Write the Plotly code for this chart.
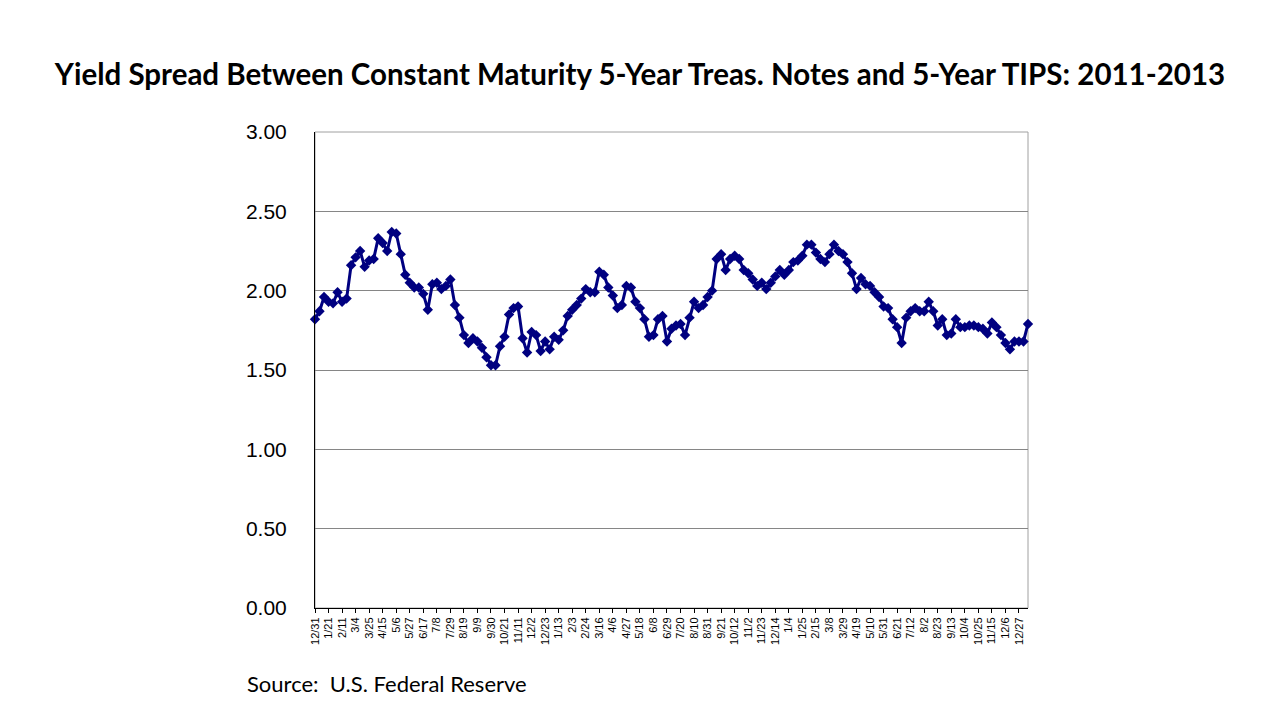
""" Yield spread chart: 5-year Treasury notes vs 5-year TIPS, 2011-2013. """

import plotly.graph_objects as go

# Weekly spread values (percentage points), week ending 12/31/2010 onward
spread = [
    1.82, 1.87, 1.96, 1.93, 1.92, 1.99, 1.93, 1.95, 2.16, 2.21,
    2.25, 2.15, 2.19, 2.20, 2.33, 2.30, 2.25, 2.37, 2.36, 2.23,
    2.10, 2.05, 2.02, 2.02, 1.98, 1.88, 2.04, 2.05, 2.01, 2.03,
    2.07, 1.91, 1.83, 1.72, 1.67, 1.70, 1.68, 1.64, 1.58, 1.53,
    1.53, 1.65, 1.71, 1.85, 1.89, 1.90, 1.70, 1.61, 1.74, 1.72,
    1.62, 1.68, 1.63, 1.71, 1.69, 1.75, 1.84, 1.88, 1.91, 1.95,
    2.01, 1.99, 1.99, 2.12, 2.10, 2.02, 1.97, 1.89, 1.91, 2.03,
    2.02, 1.93, 1.89, 1.82, 1.71, 1.72, 1.82, 1.84, 1.68, 1.76,
    1.78, 1.79, 1.72, 1.83, 1.93, 1.89, 1.91, 1.96, 2.00, 2.20,
    2.23, 2.13, 2.20, 2.22, 2.20, 2.13, 2.11, 2.07, 2.03, 2.05,
    2.01, 2.05, 2.09, 2.13, 2.10, 2.13, 2.18, 2.19, 2.22, 2.29,
    2.29, 2.24, 2.20, 2.18, 2.23, 2.29, 2.25, 2.23, 2.18, 2.11,
    2.01, 2.08, 2.04, 2.03, 1.99, 1.96, 1.90, 1.89, 1.82, 1.77,
    1.67, 1.83, 1.87, 1.89, 1.87, 1.87, 1.93, 1.87, 1.78, 1.82,
    1.72, 1.73, 1.82, 1.77, 1.77, 1.78, 1.78, 1.77, 1.76, 1.73,
    1.80, 1.77, 1.72, 1.67, 1.63, 1.68, 1.68, 1.68, 1.79,
]

# Category labels shown on the x axis (every third week)
week_labels = [
    '12/31', '1/21', '2/11', '3/4', '3/25', '4/15', '5/6', '5/27', '6/17',
    '7/8', '7/29', '8/19', '9/9', '9/30', '10/21', '11/11', '12/2', '12/23',
    '1/13', '2/3', '2/24', '3/16', '4/6', '4/27', '5/18', '6/8', '6/29',
    '7/20', '8/10', '8/31', '9/21', '10/12', '11/2', '11/23', '12/14',
    '1/4', '1/25', '2/15', '3/8', '3/29', '4/19', '5/10', '5/31', '6/21',
    '7/12', '8/2', '8/23', '9/13', '10/4', '10/25', '11/15', '12/6', '12/27',
]

y_ticks = [0.0, 0.5, 1.0, 1.5, 2.0, 2.5, 3.0]

TITLE = 'Yield Spread Between Constant Maturity 5-Year Treas. Notes and 5-Year TIPS: 2011-2013'
SOURCE = 'Source:  U.S. Federal Reserve'

week_idx = list(range(len(spread)))
label_idx = week_idx[::3][:len(week_labels)]

fig = go.Figure()
fig.add_trace(go.Scatter(
    x=week_idx,
    y=spread,
    mode='lines+markers',
    line=dict(color='#000080', width=3),
    marker=dict(symbol='diamond', size=8, color='#000080'),
    cliponaxis=False,
    showlegend=False,
))

# Grey frame round the plot area (top and right edges)
fig.add_shape(
    type='rect', xref='paper', yref='paper', x0=0, x1=1, y0=0, y1=1,
    line=dict(color='#a0a0a0', width=1), layer='below',
)

fig.update_xaxes(
    range=[0, len(spread) - 1],
    tickvals=label_idx,
    ticktext=week_labels,
    tickangle=-90,
    tickfont=dict(family='Liberation Sans, Arial', size=11, color='black'),
    ticks='outside', ticklen=4, tickcolor='black',
    showline=True, linecolor='black', linewidth=1,
    showgrid=False, zeroline=False,
)
fig.update_yaxes(
    range=[0, 3],
    tickvals=y_ticks,
    tickformat='.2f',
    tickfont=dict(family='Liberation Sans, Arial', size=21, color='black'),
    ticklabelstandoff=23,
    showline=True, linecolor='black', linewidth=1,
    showgrid=True, gridcolor='#868686', gridwidth=1,
    zeroline=False,
)

fig.update_layout(
    width=1280, height=720,
    margin=dict(l=307, r=260, t=124, b=120),
    paper_bgcolor='white', plot_bgcolor='white',
    title=dict(
        text=f'<b>{TITLE}</b>',
        x=632 / 1280, xref='container', xanchor='center',
        y=1 - 67 / 720, yref='container', yanchor='middle',
        font=dict(family='Lato, Open Sans', size=29.5, color='black'),
    ),
    annotations=[dict(
        text=SOURCE, xref='paper', yref='paper',
        x=-(315 - 245) / 713, y=-(683 - 608) / 476,
        xanchor='left', yanchor='middle', showarrow=False,
        font=dict(family='Lato, Open Sans', size=22, color='black'),
    )],
)

fig.write_html('out.html')
